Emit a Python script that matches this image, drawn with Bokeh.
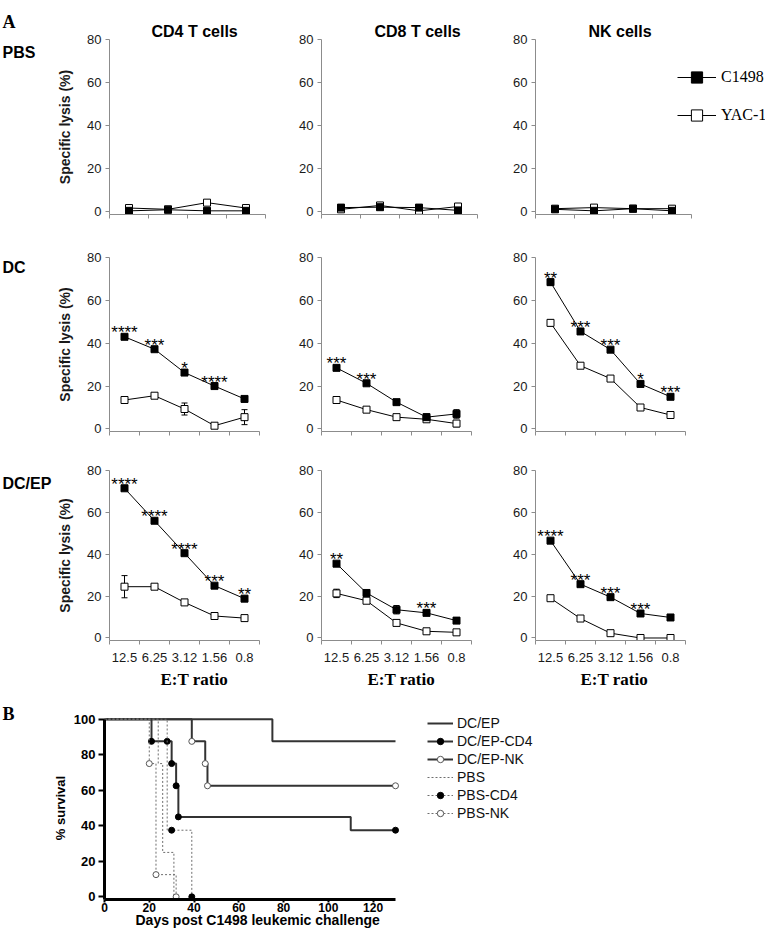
from bokeh.plotting import figure
from bokeh.layouts import column, row
from bokeh.models import (Range1d, FixedTicker, Legend, LegendItem, Whisker,
                          ColumnDataSource, TeeHead, Title)
from bokeh.embed import file_html
from bokeh.resources import INLINE
from bokeh.core.properties import value

# ---------------- data: panel A (specific lysis, %) ----------------
ratios_5 = ["12.5", "6.25", "3.12", "1.56", "0.8"]
cell_types = ["CD4 T cells", "CD8 T cells", "NK cells"]
groups = ["PBS", "DC", "DC/EP"]

# PBS group (4 ratios)
pbs_cd4_c1498 = [0.5, 1.0, 0.5, 0.5]
pbs_cd4_yac1 = [1.8, 1.2, 4.3, 1.8]
pbs_cd8_c1498 = [2.0, 2.2, 2.0, 0.7]
pbs_cd8_yac1 = [1.2, 3.0, 0.5, 2.5]
pbs_nk_c1498 = [1.2, 0.5, 1.5, 0.5]
pbs_nk_yac1 = [1.5, 2.0, 1.5, 1.5]
pbs_err = [0, 0, 0, 0]

# DC group
dc_cd4_c1498 = [43.0, 37.2, 26.3, 20.0, 14.0]
dc_cd4_c1498_err = [0.8, 0.8, 0.8, 0.8, 1.0]
dc_cd4_yac1 = [13.5, 15.5, 9.3, 1.5, 5.5]
dc_cd4_yac1_err = [1.5, 0.8, 2.8, 1.0, 3.5]
dc_cd8_c1498 = [28.5, 21.3, 12.5, 5.5, 7.0]
dc_cd8_c1498_err = [0.8, 0.8, 1.2, 1.5, 2.0]
dc_cd8_yac1 = [13.5, 9.0, 5.5, 4.5, 2.5]
dc_cd8_yac1_err = [0.8, 0.8, 0.8, 1.0, 1.5]
dc_nk_c1498 = [68.5, 45.5, 37.0, 21.0, 15.0]
dc_nk_c1498_err = [1.5, 0.8, 0.8, 0.8, 0.8]
dc_nk_yac1 = [49.5, 29.5, 23.5, 10.0, 6.5]
dc_nk_yac1_err = [1.5, 0.8, 0.8, 1.2, 0.8]

# DC/EP group
dcep_cd4_c1498 = [71.5, 56.0, 40.5, 25.0, 18.8]
dcep_cd4_c1498_err = [0.8, 0.5, 1.0, 0.8, 1.2]
dcep_cd4_yac1 = [24.5, 24.5, 17.0, 10.5, 9.5]
dcep_cd4_yac1_err = [5.3, 0.8, 1.0, 1.0, 1.3]
dcep_cd8_c1498 = [35.5, 21.5, 13.5, 12.0, 8.3]
dcep_cd8_c1498_err = [1.0, 1.0, 2.0, 1.0, 0.8]
dcep_cd8_yac1 = [21.3, 17.8, 7.2, 3.2, 2.7]
dcep_cd8_yac1_err = [2.0, 1.0, 1.2, 0.8, 0.8]
dcep_nk_c1498 = [46.5, 25.7, 19.5, 11.7, 9.8]
dcep_nk_c1498_err = [0.8, 0.8, 0.8, 0.8, 0.8]
dcep_nk_yac1 = [19.0, 9.3, 2.3, 0.0, 0.0]
dcep_nk_yac1_err = [0.8, 0.5, 0.5, 0.0, 0.0]

# significance marks above the C1498 points
no_stars_4 = ["", "", "", ""]
dc_cd4_stars = ["****", "***", "*", "****", ""]
dc_cd8_stars = ["***", "***", "", "", ""]
dc_nk_stars = ["**", "***", "***", "*", "***"]
dcep_cd4_stars = ["****", "****", "****", "***", "**"]
dcep_cd8_stars = ["**", "", "", "***", ""]
dcep_nk_stars = ["****", "***", "***", "***", ""]

# ---------------- data: panel B (Kaplan-Meier survival) ----------------
surv_labels = ["DC/EP", "DC/EP-CD4", "DC/EP-NK", "PBS", "PBS-CD4", "PBS-NK"]
dcep_t = [0, 75, 130]
dcep_s = [100, 87.5, 87.5]
dcep_cd4_t = [0, 21, 30, 32, 33, 110, 130]
dcep_cd4_s = [100, 87.5, 75, 62.5, 45, 37.5, 37.5]
dcep_cd4_mt = [21, 28, 30, 32, 33, 130]
dcep_cd4_ms = [87.5, 87.5, 75, 62.5, 45, 37.5]
dcep_nk_t = [0, 39, 45, 46, 130]
dcep_nk_s = [100, 87.5, 75, 62.5, 62.5]
dcep_nk_mt = [39, 45, 46, 130]
dcep_nk_ms = [87.5, 75, 62.5, 62.5]
pbs_t = [0, 24, 26, 31]
pbs_s = [100, 75, 25, 0]
pbs_cd4_t = [0, 28, 39]
pbs_cd4_s = [100, 37.5, 0]
pbs_cd4_mt = [30, 39]
pbs_cd4_ms = [37.5, 0]
pbs_nk_t = [0, 20, 23, 32]
pbs_nk_s = [100, 75, 12.5, 0]
pbs_nk_mt = [20, 23, 32]
pbs_nk_ms = [75, 12.5, 0]

AX = "#8c8c8c"
TXT = "#1a1a1a"
SANS = "Liberation Sans"
SERIF = "Liberation Serif"


def base_style(p):
    p.outline_line_color = None
    p.xgrid.visible = False
    p.ygrid.visible = False
    p.background_fill_color = "white"
    p.border_fill_color = "white"


def text_fig(w, T, H, B):
    # y data = pixels from the top of the row
    p = figure(frame_width=w, frame_height=H, x_range=Range1d(0, w),
               y_range=Range1d(T + H, T), x_axis_type=None, y_axis_type=None,
               toolbar_location=None, output_backend="svg", min_border_left=0,
               min_border_right=0, min_border_top=T, min_border_bottom=B)
    p.outline_line_color = None
    p.border_fill_color = "white"
    return p


def letter_title(p, t, standoff):
    p.title.text = t
    p.title.align = "left"
    p.title.offset = 2
    p.title.text_font = SERIF
    p.title.text_font_style = "bold"
    p.title.text_font_size = "18px"
    p.title.text_color = "black"
    p.title.standoff = standoff


def put_text(p, x, y, t, font=SANS, size="16px"):
    p.text(x=[x], y=[y], text=[t], text_font=value(font), text_font_size=size,
           text_font_style="bold", text_align="left", text_baseline="middle",
           text_color="black")


def add_err(p, xs, vals, errs):
    pts = [(x, v, e) for x, v, e in zip(xs, vals, errs) if e > 0]
    if not pts:
        return
    src = ColumnDataSource(dict(x=[a for a, _, _ in pts],
                                lo=[v - e for _, v, e in pts],
                                hi=[v + e for _, v, e in pts]))
    w = Whisker(source=src, base="x", lower="lo", upper="hi",
                line_color="black", line_width=1, level="underlay",
                upper_head=TeeHead(size=6, line_color="black", line_width=1),
                lower_head=TeeHead(size=6, line_color="black", line_width=1))
    p.add_layout(w)


def lysis_panel(c_vals, y_vals, c_err, y_err, stars, fw, fh, L, R, T, B,
                xlabels=None, ylabel=False, extra_w=0, title=None, title_off=0):
    n = len(c_vals)
    xs = list(range(1, n + 1))
    unit = fw / n
    p = figure(frame_width=fw + extra_w, frame_height=fh,
               x_range=Range1d(0.5, n + 0.5 + extra_w / unit),
               y_range=Range1d(-1.2, 80), output_backend="svg", toolbar_location=None,
               min_border_left=L, min_border_right=R, min_border_top=T, min_border_bottom=B)
    base_style(p)
    ya = p.yaxis[0]
    ya.ticker = FixedTicker(ticks=[0, 20, 40, 60, 80])
    ya.axis_line_color = AX
    ya.major_tick_line_color = AX
    ya.minor_tick_line_color = None
    ya.major_tick_out = 4
    ya.major_tick_in = 0
    ya.major_label_standoff = 4
    ya.major_label_text_font = SANS
    ya.major_label_text_font_size = "13px"
    ya.major_label_text_color = TXT
    if ylabel:
        ya.axis_label = "Specific lysis (%)"
        ya.axis_label_text_font = SANS
        ya.axis_label_text_font_style = "bold"
        ya.axis_label_text_font_size = "14px"
        ya.axis_label_text_color = TXT
        ya.axis_label_standoff = 11
    xa = p.xaxis[0]
    xa.bounds = (0.5, n + 0.5)
    xa.ticker = FixedTicker(ticks=xs if xlabels else [],
                            minor_ticks=[i + 0.5 for i in range(n + 1)])
    xa.axis_line_color = AX
    xa.major_tick_line_color = None
    xa.major_tick_out = 4
    xa.major_tick_in = 0
    xa.minor_tick_line_color = AX
    xa.minor_tick_out = 4
    xa.minor_tick_in = 0
    xa.major_label_text_font = SANS
    xa.major_label_text_font_size = "13px"
    xa.major_label_text_color = TXT
    xa.major_label_standoff = 8
    if xlabels:
        xa.major_label_overrides = {i + 1: lab for i, lab in enumerate(xlabels)}
        p.add_layout(Title(text="E:T ratio", align="left", offset=title_off,
                           text_font=SERIF, text_font_style="bold",
                           text_font_size="17px", text_color="black", standoff=7),
                     "below")
    if title:
        p.title.text = title
        p.title.align = "left"
        p.title.offset = title_off
        p.title.text_font = SANS
        p.title.text_font_style = "bold"
        p.title.text_font_size = "16px"
        p.title.text_color = "black"
        p.title.standoff = 0

    add_err(p, xs, y_vals, y_err)
    add_err(p, xs, c_vals, c_err)
    ly = p.line(xs, y_vals, line_color="black", line_width=1)
    sy = p.scatter(xs, y_vals, marker="square", size=7, fill_color="white",
                   line_color="black", line_width=1)
    lc = p.line(xs, c_vals, line_color="black", line_width=1)
    sc = p.scatter(xs, c_vals, marker="square", size=7, fill_color="black",
                   line_color="black", line_width=1)
    p.text(x=xs, y=c_vals, text=stars, text_font=value(SANS),
           text_font_size="17px", text_align="center", text_baseline="alphabetic",
           y_offset=-4, text_color="black")
    return p, (lc, sc, ly, sy)


# ---------- layout (pixels) ----------
LW = 54                      # width of the row-label strip
H1, T1, B1 = 175, 39, 13
H2, T2, B2 = 174, 30, 13
H3, T3, B3 = 170, 26, 54

p11, _ = lysis_panel(pbs_cd4_c1498, pbs_cd4_yac1, pbs_err, pbs_err, no_stars_4,
                     156, H1, 51, 26, T1, B1, ylabel=True, title=cell_types[0], title_off=42)
p12, _ = lysis_panel(pbs_cd8_c1498, pbs_cd8_yac1, pbs_err, pbs_err, no_stars_4,
                     156, H1, 30, 28, T1, B1, title=cell_types[1], title_off=53)
p13, rr = lysis_panel(pbs_nk_c1498, pbs_nk_yac1, pbs_err, pbs_err, no_stars_4,
                      156, H1, 30, 0, T1, B1, extra_w=78, title=cell_types[2], title_off=53)

p21, _ = lysis_panel(dc_cd4_c1498, dc_cd4_yac1, dc_cd4_c1498_err, dc_cd4_yac1_err,
                     dc_cd4_stars, 150, H2, 51, 32, T2, B2, ylabel=True)
p22, _ = lysis_panel(dc_cd8_c1498, dc_cd8_yac1, dc_cd8_c1498_err, dc_cd8_yac1_err,
                     dc_cd8_stars, 150, H2, 30, 34, T2, B2)
p23, _ = lysis_panel(dc_nk_c1498, dc_nk_yac1, dc_nk_c1498_err, dc_nk_yac1_err,
                     dc_nk_stars, 150, H2, 30, 30, T2, B2)

p31, _ = lysis_panel(dcep_cd4_c1498, dcep_cd4_yac1, dcep_cd4_c1498_err, dcep_cd4_yac1_err,
                     dcep_cd4_stars, 150, H3, 51, 32, T3, B3, xlabels=ratios_5, ylabel=True,
                     title_off=51)
p32, _ = lysis_panel(dcep_cd8_c1498, dcep_cd8_yac1, dcep_cd8_c1498_err, dcep_cd8_yac1_err,
                     dcep_cd8_stars, 150, H3, 30, 34, T3, B3, xlabels=ratios_5, title_off=46)
p33, _ = lysis_panel(dcep_nk_c1498, dcep_nk_yac1, dcep_nk_c1498_err, dcep_nk_yac1_err,
                     dcep_nk_stars, 150, H3, 30, 30, T3, B3, xlabels=ratios_5, title_off=45)

lc, sc, ly, sy = rr
leg = Legend(items=[LegendItem(label="C1498", renderers=[lc, sc]),
                    LegendItem(label="YAC-1", renderers=[ly, sy])],
             location=(142, 85), glyph_width=39, glyph_height=28, label_height=28,
             spacing=10, padding=0, margin=0, label_standoff=5,
             border_line_color=None, background_fill_alpha=0,
             label_text_font=SERIF, label_text_font_size="16px",
             label_text_color="black")
p13.add_layout(leg)

# row-label strips
t1 = text_fig(LW, T1, H1, B1)
letter_title(t1, "A", 16)
put_text(t1, 2, 52, groups[0])
t2 = text_fig(LW, T2, H2, B2)
put_text(t2, 2, 40, groups[1])
t3 = text_fig(LW, T3, H3, B3)
put_text(t3, 2, 39, groups[2])

# ---------------- panel B ----------------
H4, T4, B4 = 183, 22, 36
UNIT_B = 291 / 130
FWB = 457
ps = figure(frame_width=FWB, frame_height=H4, x_range=Range1d(0, FWB / UNIT_B),
            y_range=Range1d(-1.5, 101.5), output_backend="svg", toolbar_location=None,
            min_border_left=64, min_border_right=0, min_border_top=T4, min_border_bottom=B4)
base_style(ps)
xa = ps.xaxis[0]
xa.ticker = FixedTicker(ticks=[0, 20, 40, 60, 80, 100, 120])
xa.bounds = (0, 130)
ya = ps.yaxis[0]
ya.ticker = FixedTicker(ticks=[0, 20, 40, 60, 80, 100])
ya.bounds = (-1.5, 100)
for ax in (xa, ya):
    ax.axis_line_color = "black"
    ax.axis_line_width = 3
    ax.major_tick_line_color = "black"
    ax.major_tick_line_width = 2
    ax.minor_tick_line_color = None
    ax.major_tick_in = 0
    ax.major_label_text_font = SANS
    ax.major_label_text_font_style = "bold"
    ax.major_label_text_font_size = "13px"
    ax.major_label_text_color = "black"
ya.major_tick_out = 6
ya.major_label_standoff = 3
xa.major_tick_out = 3
xa.major_label_standoff = 0
xa.major_label_text_font_size = "12px"
ya.axis_label = "% survival"
ya.axis_label_text_font = SANS
ya.axis_label_text_font_style = "bold"
ya.axis_label_text_font_size = "13px"
ya.axis_label_text_color = "black"
ya.axis_label_standoff = 3
ps.add_layout(Title(text="Days post C1498 leukemic challenge", align="left", offset=31,
                    text_font=SANS, text_font_style="bold", text_font_size="14px",
                    text_color="black", standoff=-10), "below")

SOLID = "#333333"
DOT = "#6e6e6e"
r_dcep = ps.step(dcep_t, dcep_s, mode="after", line_color=SOLID, line_width=2)
r_dcep_cd4 = ps.step(dcep_cd4_t, dcep_cd4_s, mode="after", line_color=SOLID, line_width=2)
m_dcep_cd4 = ps.scatter(dcep_cd4_mt, dcep_cd4_ms, marker="circle", size=6,
                        fill_color="black", line_color="black")
r_dcep_nk = ps.step(dcep_nk_t, dcep_nk_s, mode="after", line_color=SOLID, line_width=2)
m_dcep_nk = ps.scatter(dcep_nk_mt, dcep_nk_ms, marker="circle", size=6,
                       fill_color="white", line_color="#555555")
r_pbs = ps.step(pbs_t, pbs_s, mode="after", line_color=DOT, line_width=1, line_dash="2 2")
r_pbs_cd4 = ps.step(pbs_cd4_t, pbs_cd4_s, mode="after", line_color=DOT, line_width=1,
                    line_dash="2 2")
m_pbs_cd4 = ps.scatter(pbs_cd4_mt, pbs_cd4_ms, marker="circle", size=6,
                       fill_color="black", line_color="black")
r_pbs_nk = ps.step(pbs_nk_t, pbs_nk_s, mode="after", line_color=DOT, line_width=1,
                   line_dash="2 2")
m_pbs_nk = ps.scatter(pbs_nk_mt, pbs_nk_ms, marker="circle", size=6,
                      fill_color="white", line_color="#555555")

rends = [[r_dcep], [r_dcep_cd4, m_dcep_cd4], [r_dcep_nk, m_dcep_nk],
         [r_pbs], [r_pbs_cd4, m_pbs_cd4], [r_pbs_nk, m_pbs_nk]]
leg2 = Legend(items=[LegendItem(label=l, renderers=r) for l, r in zip(surv_labels, rends)],
              location=(323, 78), glyph_width=26, glyph_height=16, label_height=16,
              spacing=2, padding=0, margin=0, label_standoff=4,
              border_line_color=None, background_fill_alpha=0,
              label_text_font=SANS, label_text_font_size="14px",
              label_text_color="#111111")
ps.add_layout(leg2)

t4 = text_fig(40, T4, H4, B4)
letter_title(t4, "B", -14)

layout = column(row(t1, p11, p12, p13), row(t2, p21, p22, p23),
                row(t3, p31, p32, p33), row(t4, ps))
open("out.html", "w").write(file_html(layout, INLINE))
